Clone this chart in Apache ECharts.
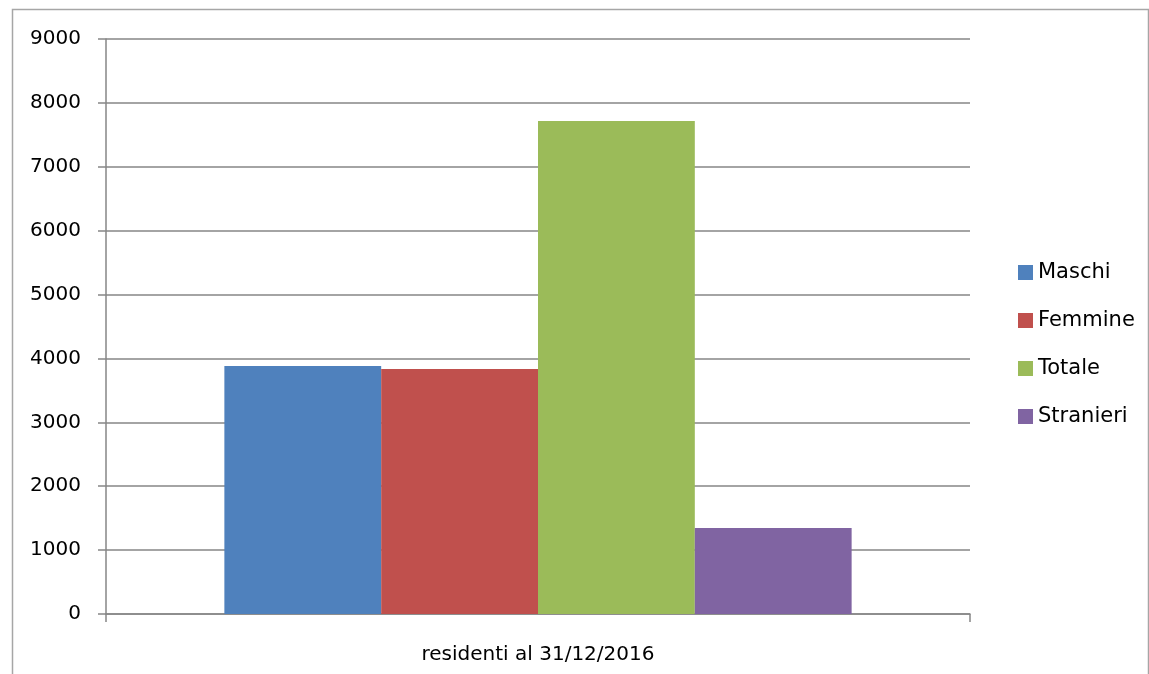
<!DOCTYPE html>
<html>
<head>
    <meta charset="utf-8">
    <style>
        html, body {
            height: 100%;
            margin: 0;
            padding: 0;
            background: #ffffff;
        }

        .container {
            width: 1149px;
            height: 674px;
        }
    </style>
</head>
<body>
<div id="main" class="container"></div>

<script src="https://cdn.jsdelivr.net/npm/echarts@6/dist/echarts.min.js"></script>
<script type="text/javascript">
// dati
var categories = ['residenti al 31/12/2016'];
var seriesNames = ['Maschi', 'Femmine', 'Totale', 'Stranieri'];
var seriesValues = [3881, 3834, 7715, 1346];
var seriesColors = ['#4f81bd', '#c0504d', '#9bbb59', '#8064a2'];

var axisColor = '#868686';
var textColor = '#000000';
var fontName = 'DejaVu Sans';

var myChart = echarts.init(document.getElementById('main'));

var series = seriesNames.map(function (name, i) {
    return {
        name: name,
        type: 'bar',
        data: [seriesValues[i]],
        barGap: '0%',
        barCategoryGap: '27.4%',
        itemStyle: {color: seriesColors[i]}
    };
});

var option = {
    animation: false,
    backgroundColor: '#ffffff',
    textStyle: {fontFamily: fontName},
    graphic: [{
        type: 'rect',
        left: 10,
        top: 7,
        shape: {width: 1136, height: 700},
        style: {fill: 'none', stroke: '#a6a6a6', lineWidth: 1.5},
        silent: true
    }],
    legend: {
        orient: 'vertical',
        left: 1013,
        top: 257,
        itemWidth: 15,
        itemHeight: 15,
        itemGap: 27,
        icon: 'rect',
        selectedMode: false,
        textStyle: {color: textColor, fontSize: 21, lineHeight: 20, fontFamily: fontName},
        data: seriesNames
    },
    grid: {
        left: 106,
        right: 179,
        top: 39,
        bottom: 60,
        containLabel: false
    },
    xAxis: {
        type: 'category',
        data: categories,
        axisLine: {lineStyle: {color: axisColor, width: 1.5}},
        axisTick: {show: true, length: 8, lineStyle: {color: axisColor, width: 1.5}},
        axisLabel: {color: textColor, fontSize: 20, margin: 31, fontFamily: fontName},
        splitLine: {show: false}
    },
    yAxis: {
        type: 'value',
        min: 0,
        max: 9000,
        interval: 1000,
        axisLine: {show: true, lineStyle: {color: axisColor, width: 1.5}},
        axisTick: {show: true, length: 8, lineStyle: {color: axisColor, width: 1.5}},
        axisLabel: {
            color: textColor,
            fontSize: 20,
            margin: 25,
            fontFamily: fontName,
            formatter: function (v) { return String(v); }
        },
        splitLine: {show: true, lineStyle: {color: axisColor, width: 1.5}}
    },
    series: series
};

myChart.setOption(option);
</script>
</body>
</html>
